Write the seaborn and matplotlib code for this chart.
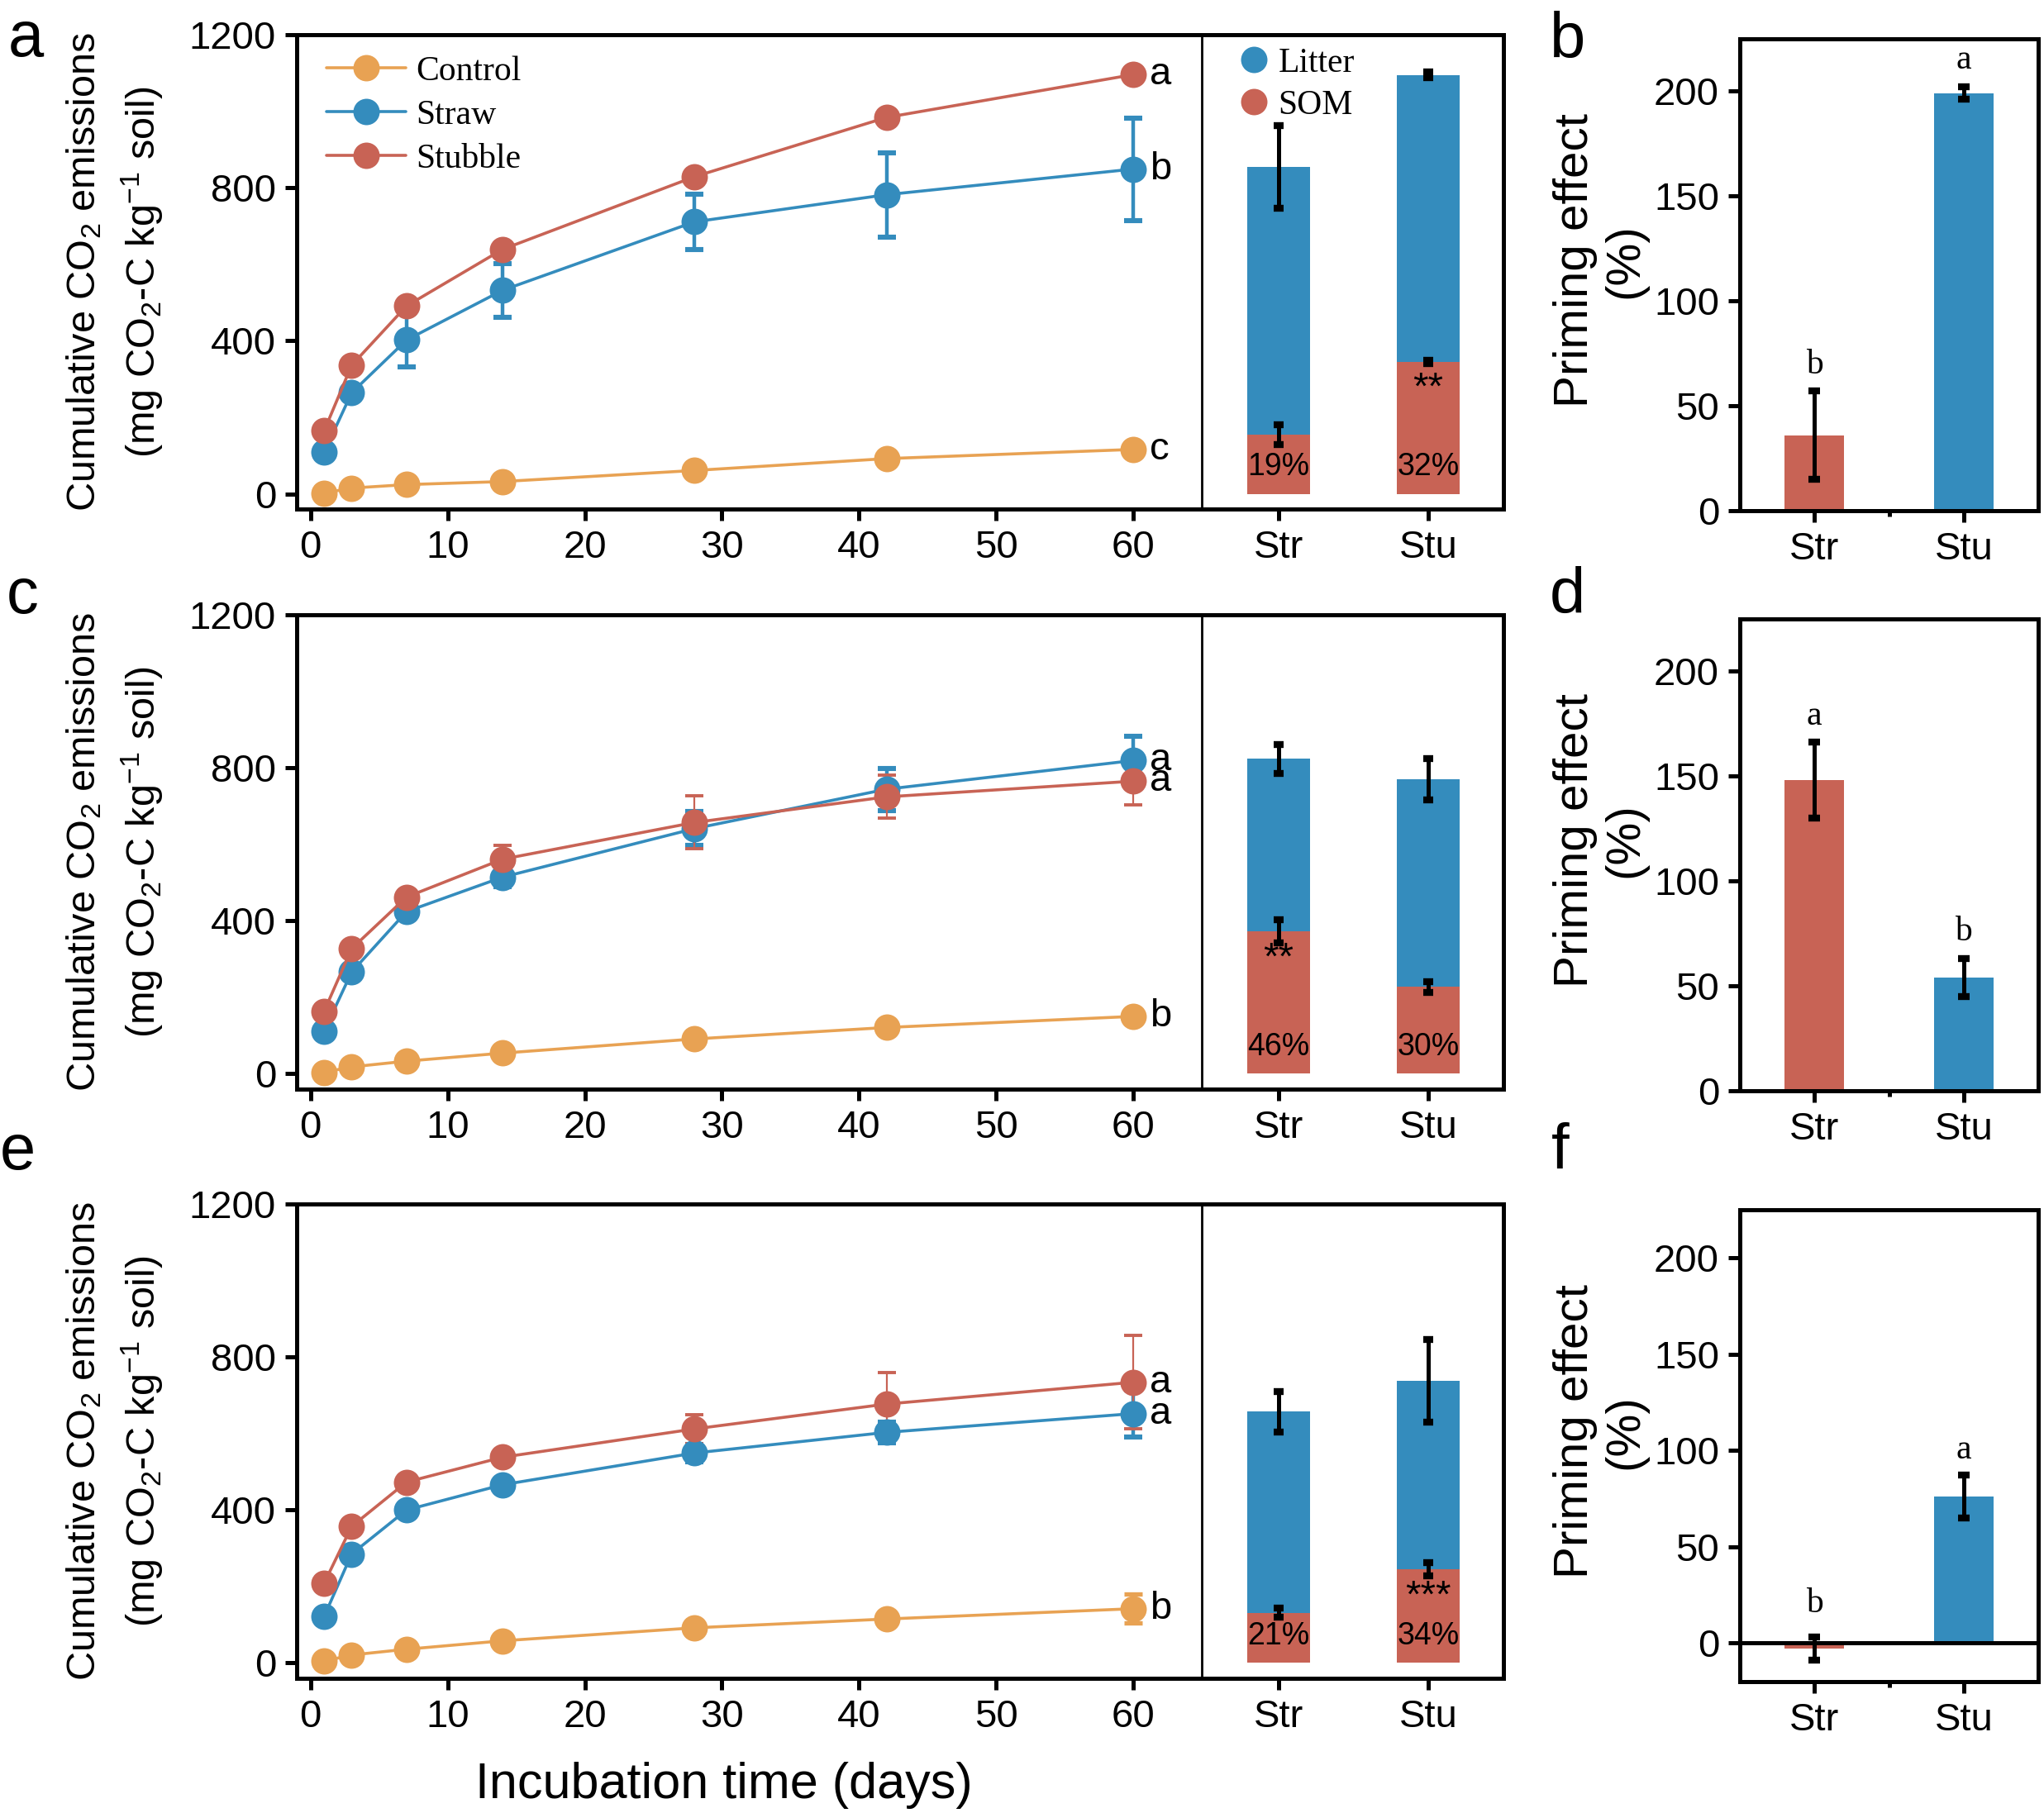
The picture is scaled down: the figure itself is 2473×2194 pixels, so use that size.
import numpy as np
import pandas as pd
import matplotlib
matplotlib.use("Agg")
import matplotlib.pyplot as plt
from matplotlib.lines import Line2D
import seaborn as sns

# kolory
c_control = "#E8A253"
c_straw = "#348CBD"
c_stubble = "#C86355"

# dane - dni inkubacji
days = [1, 3, 7, 14, 28, 42, 60]

# panel a
a_control = [2, 15, 24, 32, 61, 92, 116]
a_straw = [109, 264, 402, 532, 711, 782, 849]
a_stubble = [165, 336, 491, 639, 829, 984, 1096]
a_control_err = [2, 3, 3, 4, 5, 6, 8]
a_straw_err = [10, 12, 70, 70, 72, 110, 134]
a_stubble_err = [8, 8, 8, 10, 10, 8, 8]
a_letters = ["c", "b", "a"]

# panel c
c_control_v = [4, 18, 33, 54, 91, 121, 150]
c_straw_v = [112, 266, 424, 514, 641, 744, 819]
c_stubble_v = [164, 327, 462, 561, 657, 724, 765]
c_control_err = [2, 3, 3, 4, 5, 6, 8]
c_straw_err = [10, 12, 20, 25, 44, 55, 64]
c_stubble_err = [8, 10, 15, 37, 69, 56, 62]
c_letters = ["b", "a", "a"]

# panel e
e_control = [5, 21, 36, 58, 92, 115, 142]
e_straw = [122, 285, 400, 466, 549, 603, 652]
e_stubble = [209, 357, 473, 538, 612, 677, 734]
e_control_err = [2, 3, 3, 4, 5, 6, 38]
e_straw_err = [8, 10, 12, 15, 22, 27, 62]
e_stubble_err = [8, 10, 12, 15, 38, 83, 122]
e_letters = ["b", "a", "a"]

# slupki skumulowane (Litter + SOM)
groups = ["Str", "Stu"]
a_som = [155, 345]
a_total = [854, 1095]
a_som_err = [26, 5]
a_total_err = [108, 8]
a_pct = ["19%", "32%"]
a_stars = ["", "**"]

c_som = [372, 227]
c_total = [823, 769]
c_som_err = [30, 14]
c_total_err = [37, 54]
c_pct = ["46%", "30%"]
c_stars = ["**", ""]

e_som = [131, 245]
e_total = [657, 737]
e_som_err = [12, 18]
e_total_err = [53, 108]
e_pct = ["21%", "34%"]
e_stars = ["", "***"]

# priming effect
b_pe = [36, 199]
b_err = [21, 3]
b_letters = ["b", "a"]
d_pe = [148, 54]
d_err = [18, 9]
d_letters = ["a", "b"]
f_pe = [-3, 76]
f_err = [6, 11]
f_letters = ["b", "a"]

sns.set_style("ticks")
plt.rcParams['font.family'] = ['Liberation Sans', 'DejaVu Sans']
plt.rcParams['mathtext.default'] = 'regular'
plt.rcParams['axes.linewidth'] = 1.8
for k in ['text.color', 'axes.labelcolor', 'xtick.color', 'ytick.color', 'axes.edgecolor']:
    plt.rcParams[k] = 'black'

SERIF = ['Liberation Serif', 'DejaVu Serif']
TICK = 17
SPW = 1.8

fig = plt.figure(figsize=(12.365, 10.97), dpi=200)

rows = [0.7192, 0.3993, 0.0743]
rows_pe = [0.7183, 0.3984, 0.0725]
h = 0.2616


def line_panel(ax, ctrl, stra, stub, ctrl_e, stra_e, stub_e, letters, legend=False):
    series = [("Control", ctrl, ctrl_e, c_control, 1.3, 1.3),
              ("Straw", stra, stra_e, c_straw, 1.6, 1.6),
              ("Stubble", stub, stub_e, c_stubble, 0.8, 0.8)]
    for name, v, e, col, elw, cth in series:
        df = pd.DataFrame({"day": days, "val": v})
        ax.errorbar(days, v, yerr=e, fmt='none', ecolor=col, elinewidth=elw,
                    capsize=4, capthick=cth + 0.6, zorder=2)
        sns.lineplot(data=df, x="day", y="val", ax=ax, color=col, marker='o',
                     markersize=11.5, markeredgewidth=0, linewidth=1.3, zorder=3)
    for (name, v, e, col, _, _), let in zip(series, letters):
        ax.text(61.2, v[-1], let, fontsize=TICK, ha='left', va='center')
    ax.set_xlim(-1, 65)
    ax.set_ylim(-40, 1200)
    ax.set_xticks(range(0, 61, 10))
    ax.set_yticks([0, 400, 800, 1200])
    ax.set_xlabel("")
    ax.set_ylabel("Cumulative CO$_2$ emissions\n(mg CO$_2$-C kg$^{-1}$ soil)", fontsize=17.5,
                  linespacing=1.45)
    ax.yaxis.set_label_coords(-0.145, 0.5)
    ax.spines['right'].set_visible(False)
    ax.tick_params(direction='out', length=5, width=SPW, labelsize=TICK, pad=4)
    if legend:
        handles = [Line2D([], [], color=col, marker='o', markersize=11.5, markeredgewidth=0,
                          linewidth=1.3) for _, _, _, col, _, _ in series]
        ax.legend(handles, [s[0] for s in series], loc='upper left', frameon=False,
                  prop={'family': SERIF, 'size': 15}, handlelength=2.3, handletextpad=0.3,
                  borderaxespad=0.2, labelspacing=0.35, bbox_to_anchor=(0.01, 1.0))


def stack_panel(ax, som, total, som_e, total_e, pct, stars, legend=False):
    x = [0, 1]
    sns.barplot(x=x, y=total, ax=ax, color=c_straw, width=0.42, saturation=1,
                errorbar=None, native_scale=True, linewidth=0, zorder=2)
    sns.barplot(x=x, y=som, ax=ax, color=c_stubble, width=0.42, saturation=1,
                errorbar=None, native_scale=True, linewidth=0, zorder=3)
    ax.errorbar(x, total, yerr=total_e, fmt='none', ecolor='black', elinewidth=1.8,
                capsize=2, capthick=3, zorder=4)
    ax.errorbar(x, som, yerr=som_e, fmt='none', ecolor='black', elinewidth=1.8,
                capsize=2, capthick=3, zorder=4)
    for xi, p, s, sv in zip(x, pct, stars, som):
        ax.text(xi, 70, p, ha='center', va='center', fontsize=13.5, zorder=5)
        if s:
            ax.text(xi, sv - 72, s, ha='center', va='center', fontsize=17, zorder=5)
    ax.set_xlim(-0.515, 1.505)
    ax.set_ylim(-40, 1200)
    ax.set_xticks(x)
    ax.set_xticklabels(groups)
    ax.set_yticks([])
    ax.set_xlabel("")
    ax.set_ylabel("")
    ax.spines['left'].set_linewidth(1.0)
    ax.tick_params(axis='x', direction='out', length=5, width=SPW, labelsize=TICK, pad=4)
    if legend:
        handles = [Line2D([], [], color=col, marker='o', markersize=11.5, linestyle='none',
                          markeredgewidth=0) for col in (c_straw, c_stubble)]
        ax.legend(handles, ["Litter", "SOM"], loc='upper left', frameon=False,
                  prop={'family': SERIF, 'size': 15}, handlelength=0.8, handletextpad=0.3,
                  borderaxespad=0.1, labelspacing=0.3, bbox_to_anchor=(0.07, 1.01))


def pe_panel(ax, vals, errs, letters, ylim, zero_line=False):
    x = [0, 1]
    sns.barplot(x=x, y=vals, ax=ax, palette=[c_stubble, c_straw], hue=x, legend=False,
                width=0.4, saturation=1, errorbar=None, native_scale=True, linewidth=0,
                zorder=2)
    ax.errorbar(x, vals, yerr=errs, fmt='none', ecolor='black', elinewidth=1.8,
                capsize=2.5, capthick=3, zorder=4)
    for xi, v, e, let in zip(x, vals, errs, letters):
        ax.text(xi, max(v, 0) + e + 5 if v >= 0 else e + v + 9, let, ha='center', va='bottom',
                fontsize=15, family=SERIF)
    if zero_line:
        ax.axhline(0, color='black', lw=SPW, zorder=5)
    ax.set_xlim(-0.5, 1.5)
    ax.set_ylim(*ylim)
    ax.set_xticks(x)
    ax.set_xticklabels(groups)
    ax.set_xticks([0.5], minor=True)
    ax.set_yticks([0, 50, 100, 150, 200])
    ax.set_xlabel("")
    ax.set_ylabel("Priming effect\n(%)", fontsize=21, linespacing=1.15)
    ax.yaxis.set_label_coords(-0.31, 0.53)
    ax.tick_params(direction='out', length=5, width=SPW, labelsize=TICK, pad=4)
    ax.tick_params(axis='x', which='minor', direction='out', length=2.5, width=SPW)


line_data = [
    (a_control, a_straw, a_stubble, a_control_err, a_straw_err, a_stubble_err, a_letters),
    (c_control_v, c_straw_v, c_stubble_v, c_control_err, c_straw_err, c_stubble_err, c_letters),
    (e_control, e_straw, e_stubble, e_control_err, e_straw_err, e_stubble_err, e_letters),
]
stack_data = [
    (a_som, a_total, a_som_err, a_total_err, a_pct, a_stars),
    (c_som, c_total, c_som_err, c_total_err, c_pct, c_stars),
    (e_som, e_total, e_som_err, e_total_err, e_pct, e_stars),
]
pe_data = [
    (b_pe, b_err, b_letters, (0, 225), False),
    (d_pe, d_err, d_letters, (0, 225), False),
    (f_pe, f_err, f_letters, (-20, 225), True),
]

for i in range(3):
    ax_l = fig.add_axes([0.1452, rows[i], 0.4428, h])
    ax_s = fig.add_axes([0.5880, rows[i], 0.1476, h])
    ax_p = fig.add_axes([0.8512, rows_pe[i], 0.1460, 0.2604])
    line_panel(ax_l, *line_data[i], legend=(i == 0))
    stack_panel(ax_s, *stack_data[i], legend=(i == 0))
    pe_panel(ax_p, *pe_data[i])

# litery paneli
for let, x, y in [("a", 0.004, 0.969), ("b", 0.758, 0.968), ("c", 0.003, 0.662),
                  ("d", 0.758, 0.662), ("e", 0.0, 0.355), ("f", 0.759, 0.355)]:
    fig.text(x, y, let, fontsize=28, va='baseline', ha='left')

fig.text(0.354, 0.008, "Incubation time (days)", fontsize=22, ha='center', va='baseline')

plt.savefig("out.png", dpi=200)
